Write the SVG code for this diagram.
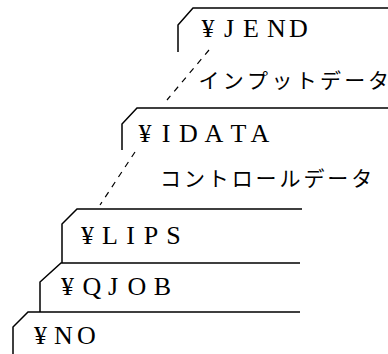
<svg xmlns="http://www.w3.org/2000/svg" width="388" height="354" viewBox="0 0 388 354">
<style>
.card{fill:none;stroke:#000;stroke-width:1.5}
.dash{fill:none;stroke:#000;stroke-width:1.2;stroke-dasharray:6 6}
.lat{font-family:"Liberation Serif",serif;font-size:26px;fill:#000;text-anchor:middle}
.jp{font-family:"Noto Sans CJK JP",sans-serif;font-size:21px;fill:#000;text-anchor:middle}
</style>
<rect width="388" height="354" fill="#fff"/>
<g id="connectors">
<line class="dash" x1="209" y1="50" x2="167" y2="100"/>
<line class="dash" x1="135" y1="152" x2="100" y2="205"/>
</g>
<g id="jend">
<path class="card" d="M388 8 H193 L178 25 V52"/>
<text class="lat" x="208 229 251 276.5 298.5" y="37">¥JEND</text>
</g>
<g id="input-label">
<text class="jp" x="209 233.3 257.6 281.9 306.2 330.5 354.8 378.5" y="88">インプットデータ</text>
</g>
<g id="idata">
<path class="card" d="M388 108 H137 L122 124 V150"/>
<text class="lat" x="145 166 188.5 214 238.5 260" y="142">¥IDATA</text>
</g>
<g id="control-label">
<text class="jp" x="170.5 194.4 218.3 242.2 266.1 290 313.9 337.8 361.7" y="186">コントロールデータ</text>
</g>
<g id="lips">
<path class="card" d="M302 209 H77 L62 224 V263"/>
<text class="lat" x="87.5 110 130.5 151 173.5" y="244">¥LIPS</text>
</g>
<g id="qjob">
<path class="card" d="M300 263 H61 L40 282 V312"/>
<text class="lat" x="67.5 92 113 137 162.5" y="295">¥QJOB</text>
</g>
<g id="no">
<path class="card" d="M300 312 H28 L13 327 V354"/>
<text class="lat" x="40.5 63.5 86.5" y="344">¥NO</text>
</g>
</svg>
